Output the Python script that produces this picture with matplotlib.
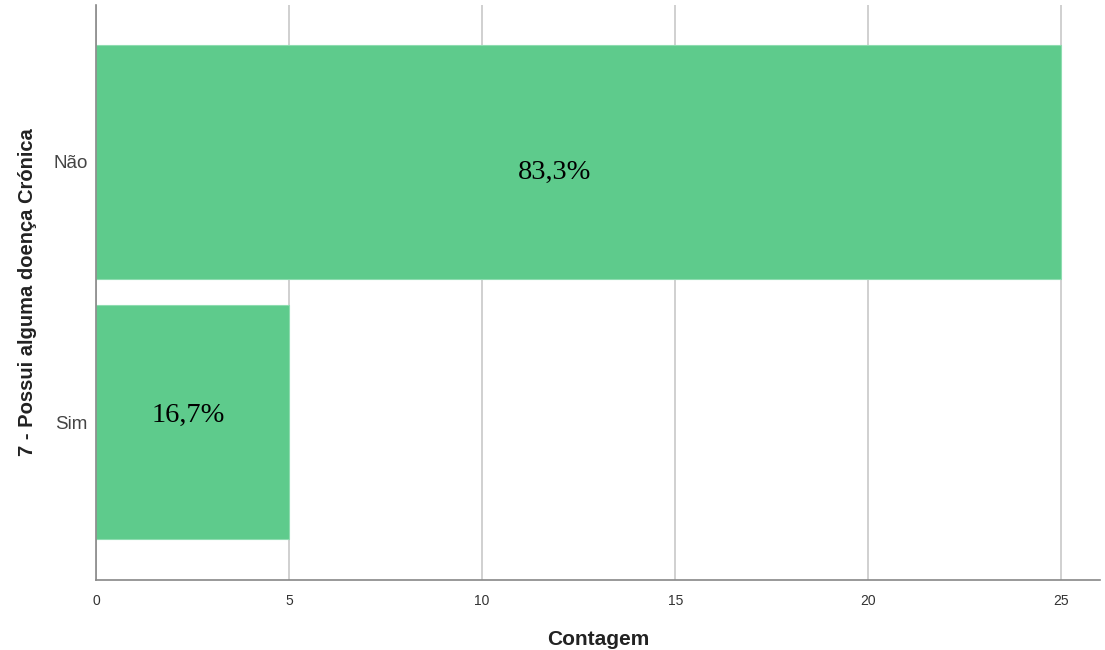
import matplotlib
matplotlib.use("Agg")
import matplotlib.pyplot as plt

# Data
categories = ["Não", "Sim"]
counts = [25, 5]
percent_labels = ["83,3%", "16,7%"]
x_ticks = [0, 5, 10, 15, 20, 25]

bar_color = "#5ECB8C"

fig = plt.figure(figsize=(11.05, 6.5), dpi=100)
ax = fig.add_axes([0.0869, 0.1077, 0.9086, 0.8843])

y_pos = list(range(len(categories)))
ax.barh(y_pos, counts, height=0.9, color=bar_color, edgecolor="#8EDCB0",
        linewidth=0.8, zorder=2)

# label placement as in the original (slightly off-centre)
label_dy = [0.04, -0.025]
for y, c, lab, dy in zip(y_pos, counts, percent_labels, label_dy):
    ax.text(c * 0.475, y + dy, lab, ha="center", va="center",
            family=["Liberation Serif", "DejaVu Serif"], fontsize=20.5,
            color="black", zorder=3)

ax.set_xlim(0, 26)
ax.set_ylim(1.606, -0.602)
ax.set_yticks(y_pos)
ax.set_yticklabels(categories, fontsize=13.5, color="#444444",
                   family=["Liberation Sans", "DejaVu Sans"])
ax.set_xticks(x_ticks)
ax.set_xticklabels([str(t) for t in x_ticks], fontsize=10, color="#333333",
                   family=["Liberation Sans", "DejaVu Sans"])
ax.tick_params(axis="both", length=0)
ax.tick_params(axis="x", pad=10)
ax.tick_params(axis="y", pad=6)

ax.grid(axis="x", color="#c8c8c8", linewidth=1.2, zorder=0)
ax.set_axisbelow(True)

for s in ["top", "right"]:
    ax.spines[s].set_visible(False)
for s in ["left", "bottom"]:
    ax.spines[s].set_color("#888888")
    ax.spines[s].set_linewidth(1.2)

ax.set_xlabel("Contagem", fontsize=15, fontweight="bold",
              family=["Liberation Sans", "DejaVu Sans"], labelpad=16,
              color="#222222")
ax.set_ylabel("7 - Possui alguma doença Crónica", fontsize=14.5, fontweight="bold",
              family=["Liberation Sans", "DejaVu Sans"],
              labelpad=12, color="#222222")

fig.savefig("out.png", dpi=100)
